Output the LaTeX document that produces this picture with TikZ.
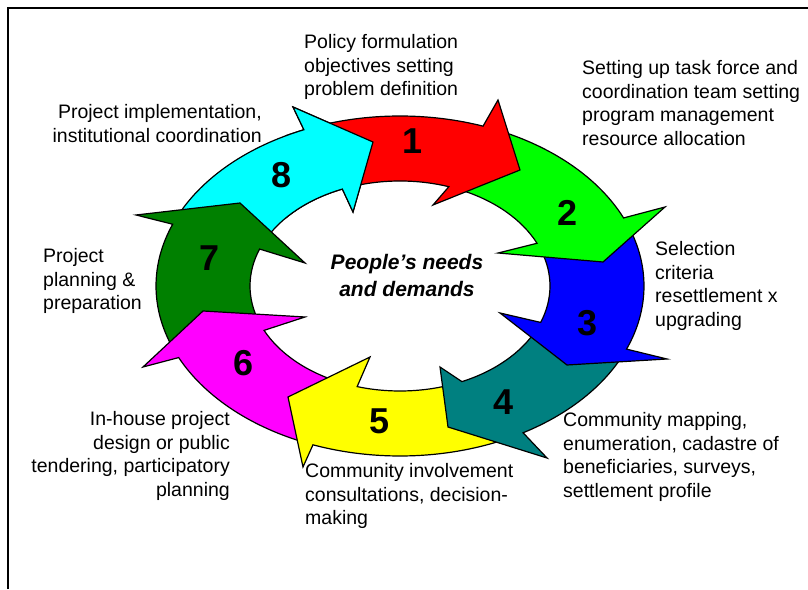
\documentclass[tikz,border=0pt]{standalone}
\usepackage{fontspec}
\setmainfont{Liberation Sans}
\usetikzlibrary{calc}

\definecolor{stageone}{RGB}{255,0,0}
\definecolor{stagetwo}{RGB}{0,255,0}
\definecolor{stagethree}{RGB}{0,0,255}
\definecolor{stagefour}{RGB}{0,128,128}
\definecolor{stagefive}{RGB}{255,255,0}
\definecolor{stagesix}{RGB}{255,0,255}
\definecolor{stageseven}{RGB}{0,128,0}
\definecolor{stageeight}{RGB}{0,255,255}

\tikzset{
  stage/.style={draw=black, line width=1.2pt, line join=miter},
  lbl/.style={font=\fontsize{19.5}{23.5}\selectfont, inner sep=0pt},
  num/.style={font=\fontsize{36}{40}\selectfont\bfseries, inner sep=0pt},
}

% colour, outer tail, outer notch, outer barb, tip, inner barb, inner notch, inner tail
\newcommand{\stagearrow}[8]{%
  \filldraw[stage, fill=#1] ($(hub)+(#2:\Ra\space and \Rb)$)
    arc[start angle=#2, end angle=#3, x radius=\Ra, y radius=\Rb]
    -- #4 -- #5 -- #6 -- ($(hub)+(#7:\ra\space and \rb)$)
    arc[start angle=#7, end angle=#8, x radius=\ra, y radius=\rb] -- cycle;}

\begin{document}
\begin{tikzpicture}[x=1pt,y=1pt]

  \pgfmathsetmacro{\Ra}{244}
  \pgfmathsetmacro{\Rb}{170}
  \pgfmathsetmacro{\ra}{150}
  \pgfmathsetmacro{\rb}{105}

  \useasboundingbox (0,0) rectangle (808,589);
  \coordinate (hub) at (400,303);

  \draw[line width=2pt] (8,0) -- (8,581) -- (808,581);

  \stagearrow{stageeight}{155.2}{113.2}{(293,482)}{(373,447)}{(353,377)}{112.6}{154}
  \stagearrow{stageseven}{-158.7}{-201.3}{(136,374)}{(240,386)}{(305,326)}{-200.6}{-160}
  \stagearrow{stagesix}{-113.3}{-155.1}{(143,222)}{(203,278)}{(305,272)}{-155}{-113}
  \stagearrow{stagefive}{-63.5}{-110.9}{(303,122)}{(288,192)}{(370,232)}{-106.6}{-69.5}
  \stagearrow{stagefour}{-24.4}{-59.7}{(547,131)}{(448,162)}{(440,222)}{-65.6}{-25}
  \stagearrow{stagethree}{20.7}{-21.8}{(667,230)}{(567,224)}{(500,276)}{-20.3}{19.5}
  \stagearrow{stagetwo}{66.5}{23.6}{(665,382)}{(603,327)}{(498,336)}{24}{66}
  \stagearrow{stageone}{109.5}{70.1}{(498,489)}{(520,419)}{(433,384)}{71}{108.5}

  % head of 8 lies over the tail of 1
  \begin{scope}
    \clip (285,364) rectangle (395,494);
    \stagearrow{stageeight}{155.2}{113.2}{(293,482)}{(373,447)}{(353,377)}{112.6}{154}
  \end{scope}

  \node[num] (n1) at (413,448) {1};
  \node[num] (n2) at (568,376) {2};
  \node[num] (n3) at (588,266) {3};
  \node[num] (n4) at (504,187) {4};
  \node[num] (n5) at (380,168) {5};
  \node[num] (n6) at (244,226) {6};
  \node[num] (n7) at (210,331) {7};
  \node[num] (n8) at (282,414) {8};

  \node[font=\fontsize{21}{27}\selectfont\bfseries\itshape, inner sep=0pt,
    align=center, anchor=base] (needs) at (407,292) {People’s needs\\and demands};

  \node[lbl, align=left, anchor=base west] (policy) at (304,493)
    {Policy formulation\\objectives setting\\problem definition};
  \node[lbl, align=left, anchor=base west] (taskforce) at (582,443.5)
    {Setting up task force and\\coordination team setting\\program management\\resource allocation};
  \node[lbl, align=left, anchor=base west] (selection) at (655,262.5)
    {Selection\\criteria\\resettlement x\\upgrading};
  \node[lbl, align=left, anchor=base west] (mapping) at (563,91.5)
    {Community mapping,\\enumeration, cadastre of\\beneficiaries, surveys,\\settlement profile};
  \node[lbl, align=left, anchor=base west] (involvement) at (305,64)
    {Community involvement\\consultations, decision-\\making};
  \node[lbl, align=right, anchor=base east] (inhouse) at (230,92.5)
    {In-house project\\design or public\\tendering, participatory\\planning};
  \node[lbl, align=left, anchor=base west] (planning) at (43,279)
    {Project\\planning \&\\preparation};
  \node[lbl, align=right, anchor=base east] (implementation) at (262,446.5)
    {Project implementation,\\institutional coordination};

\end{tikzpicture}
\end{document}
